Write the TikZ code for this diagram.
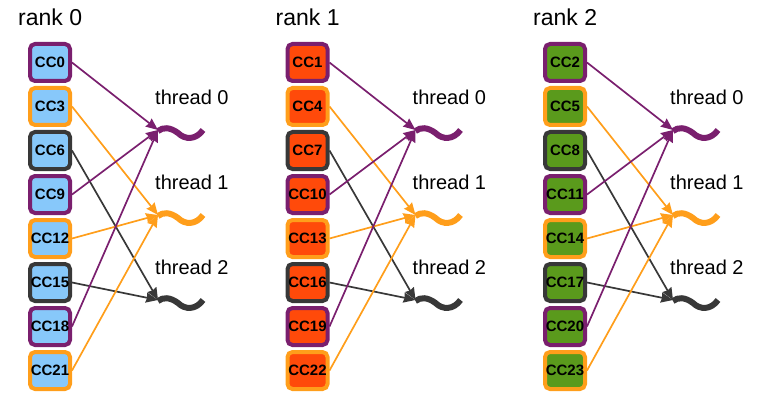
\documentclass[tikz,border=0pt]{standalone}
\usepackage{fontspec}
\setmainfont{Liberation Sans}
\usetikzlibrary{arrows.meta}
\definecolor{thc0}{HTML}{7A1F6E}
\definecolor{thc1}{HTML}{FF9E1B}
\definecolor{thc2}{HTML}{383838}
\definecolor{rfill0}{HTML}{87C8FA}
\definecolor{rfill1}{HTML}{FF4A0A}
\definecolor{rfill2}{HTML}{5A9A1C}
\tikzset{
  ccbox/.style={draw, line width=4pt, rounded corners=5pt, minimum width=40pt, minimum height=37pt, inner sep=0pt, font=\fontsize{15}{15}\selectfont\bfseries},
  ranklabel/.style={anchor=west, inner sep=0pt, font=\fontsize{23}{23}\selectfont},
  thlabel/.style={anchor=west, inner sep=0pt, font=\fontsize{20}{20}\selectfont},
  conn/.style={line width=1.7pt, -{Stealth[length=12pt,width=10pt,inset=1pt]}},
  squig/.style={line width=6pt}
}
\begin{document}
\begin{tikzpicture}[x=1pt,y=-1pt]
\useasboundingbox (0,0) rectangle (763,393);
\foreach \r in {0,1,2} {
  \pgfmathsetmacro\off{\r*257.5}
  \node[ranklabel] (rank\r) at (18+\off,17) {rank \r};
  \foreach \t in {0,1,2} {
    \coordinate (th\r\t) at (158+\off,130+85*\t);
    \begin{scope}[shift={(th\r\t)}]
      \draw[squig, thc\t] (0,1) .. controls (5,-3) and (12,-3) .. (20,3) .. controls (27,10) and (38,10) .. (45,0);
    \end{scope}
    \node[thlabel] (lab\r\t) at (155+\off,97+85*\t) {thread \t};
  }
  \foreach \k in {0,...,7} {
    \pgfmathtruncatemacro\n{3*\k+\r}
    \pgfmathtruncatemacro\t{mod(\k,3)}
    \node[ccbox, draw=thc\t, fill=rfill\r] (cc\n) at (50+\off,62.5+44*\k) {CC\n};
    \draw[conn, thc\t] (cc\n.east) -- (th\r\t);
  }
}
\end{tikzpicture}
\end{document}
